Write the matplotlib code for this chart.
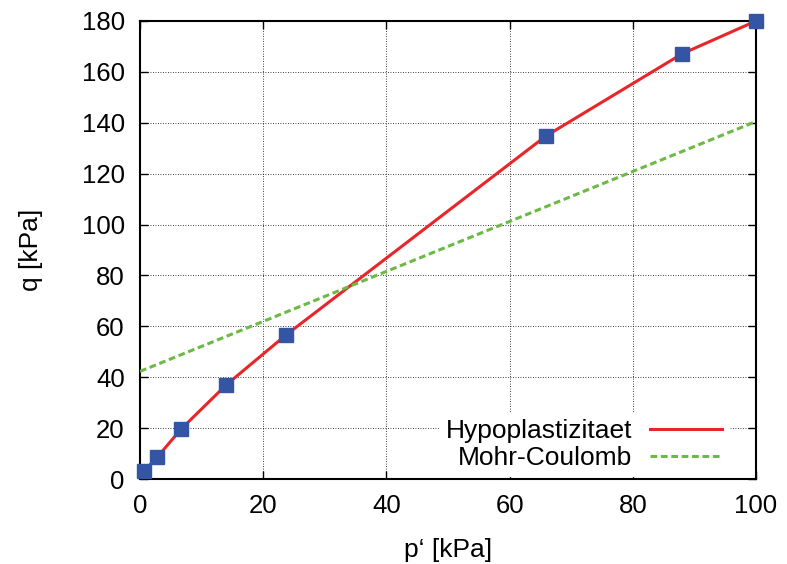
import matplotlib.pyplot as plt

plt.rcParams['font.family'] = ['Liberation Sans', 'DejaVu Sans']

# measured points (Hypoplastizitaet)
p_hypo = [0.65, 2.8, 6.7, 14.0, 23.7, 65.9, 88.0, 100.0]
q_hypo = [3.1, 8.6, 19.7, 37.0, 56.6, 134.8, 167.1, 180.0]

# Mohr-Coulomb line
p_mc = [0.0, 100.0]
q_mc = [42.3, 140.5]

x_ticks = [0, 20, 40, 60, 80, 100]
y_ticks = [0, 20, 40, 60, 80, 100, 120, 140, 160, 180]


def create_plot():
    fig = plt.figure(figsize=(7.87, 5.64), dpi=100)
    ax = fig.add_axes([0.1779, 0.1507, 0.7827, 0.8121])

    ax.plot(p_hypo, q_hypo, color='#e8262a', lw=2.2, label='Hypoplastizitaet', zorder=3)
    ax.plot(p_hypo, q_hypo, ls='none', marker='s', ms=10.5, color='#3355a3', zorder=4, clip_on=False)
    ax.plot(p_mc, q_mc, color='#6cb943', lw=2.2, ls=(0, (2.2, 1.2)), label='Mohr-Coulomb', zorder=3)

    ax.set_xlim(0, 100)
    ax.set_ylim(0, 180)
    ax.set_xticks(x_ticks)
    ax.set_yticks(y_ticks)
    ax.tick_params(direction='in', length=6, width=1, labelsize=18.5, top=True, right=True, pad=11)
    ax.grid(True, color='black', ls=(0, (1, 2)), lw=0.6)
    for s in ax.spines.values():
        s.set_linewidth(1.5)

    ax.set_xlabel('p\u2018 [kPa]', fontsize=19, labelpad=14)
    ax.set_ylabel('q [kPa]', fontsize=19, labelpad=28)

    leg = ax.legend(loc='lower right', bbox_to_anchor=(0.96, 0.0), markerfirst=False,
                    fontsize=19, frameon=True, fancybox=False, handlelength=2.75,
                    handletextpad=0.65, labelspacing=0.1, borderpad=0.25, borderaxespad=0.1)
    leg.get_frame().set_edgecolor('white')
    leg.get_frame().set_facecolor('white')
    leg.get_frame().set_alpha(1)
    leg.set_zorder(5)

    fig.savefig('out.png', dpi=100)


if __name__ == "__main__":
    create_plot()
